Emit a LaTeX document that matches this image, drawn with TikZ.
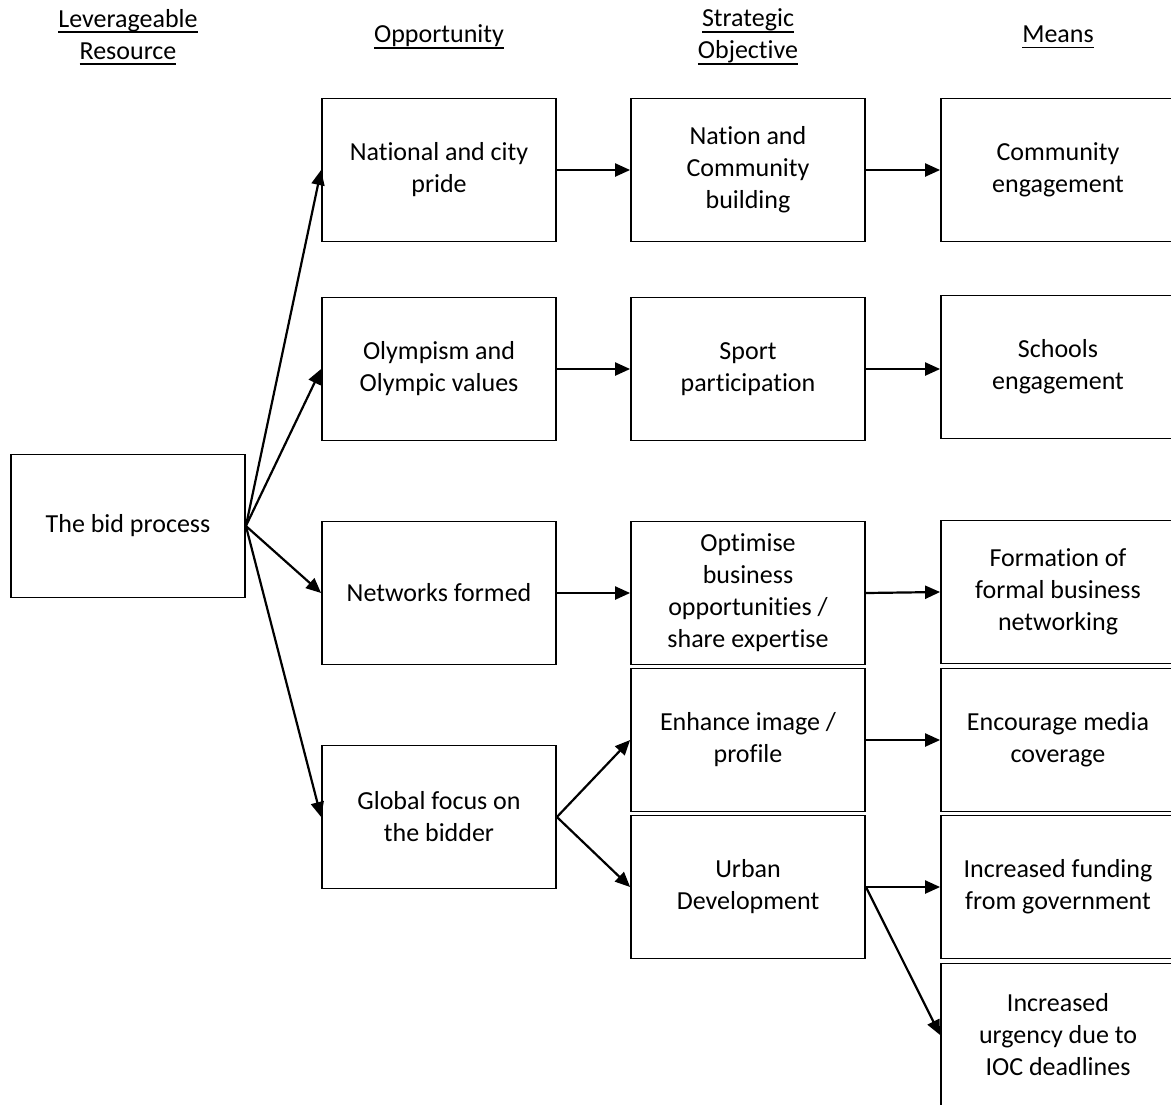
\documentclass[tikz,border=0pt]{standalone}
\usepackage{fontspec}
\setmainfont[Ligatures=NoCommon]{Carlito}
\usetikzlibrary{arrows.meta}

\newcommand\headline[1]{\setbox0\hbox{#1}\rlap{\rule[-3pt]{\wd0}{0.9pt}}\box0}

\tikzset{
  stage/.style={draw, line width=0.9pt, minimum width=117pt, minimum height=71.5pt,
    align=center, inner sep=2pt, font=\fontsize{13}{16}\selectfont},
  heading/.style={align=center, font=\fontsize{13}{16}\selectfont},
  link/.style={-{Triangle[length=7.5pt,width=6.5pt]}, line width=1.1pt},
}

\begin{document}
\begin{tikzpicture}[x=0.5pt,y=-0.5pt]
\useasboundingbox (0,0) rectangle (1171,1104);
% Column headings
\node[heading] (hres) at (128,37) {\headline{Leverageable}\\\headline{Resource}};
\node[heading] (hopp) at (439,37) {\headline{Opportunity}};
\node[heading] (hobj) at (748,37) {\headline{Strategic}\\\headline{Objective}};
\node[heading] (hmeans) at (1058,37) {\headline{Means}};
% Leverageable resource
\node[stage] (bid) at (128,526) {The bid process};
% Opportunities
\node[stage] (pride) at (439,170) {National and city\\pride};
\node[stage] (values) at (439,369) {Olympism and\\Olympic values};
\node[stage] (networks) at (439,593) {Networks formed};
\node[stage] (focus) at (439,817) {Global focus on\\the bidder};
% Strategic objectives
\node[stage] (nation) at (748,170) {Nation and\\Community\\building};
\node[stage] (sport) at (748,369) {Sport\\participation};
\node[stage] (business) at (748,593) {Optimise\\business\\opportunities /\\share expertise};
\node[stage] (image) at (748,740) {Enhance image /\\profile};
\node[stage] (urban) at (748,887) {Urban\\Development};
% Means
\node[stage] (community) at (1058,170) {Community\\engagement};
\node[stage] (schools) at (1058,367) {Schools\\engagement};
\node[stage] (formal) at (1058,592) {Formation of\\formal business\\networking};
\node[stage] (media) at (1058,740) {Encourage media\\coverage};
\node[stage] (funding) at (1058,887) {Increased funding\\from government};
\node[stage] (urgency) at (1058,1035) {Increased\\urgency due to\\IOC deadlines};
% Links
\foreach \t in {pride,values,networks,focus}
  \draw[link] (bid.east) -- (\t.west);
\draw[link] (pride.east) -- (nation.west);
\draw[link] (nation.east) -- (community.west);
\draw[link] (values.east) -- (sport.west);
\draw[link] (sport.east) -- (sport.east -| schools.west);
\draw[link] (networks.east) -- (business.west);
\draw[link] (business.east) -- (formal.west);
\draw[link] (focus.east) -- (image.west);
\draw[link] (focus.east) -- (urban.west);
\draw[link] (image.east) -- (media.west);
\draw[link] (urban.east) -- (funding.west);
\draw[link] (urban.east) -- (urgency.west);
\end{tikzpicture}
\end{document}
